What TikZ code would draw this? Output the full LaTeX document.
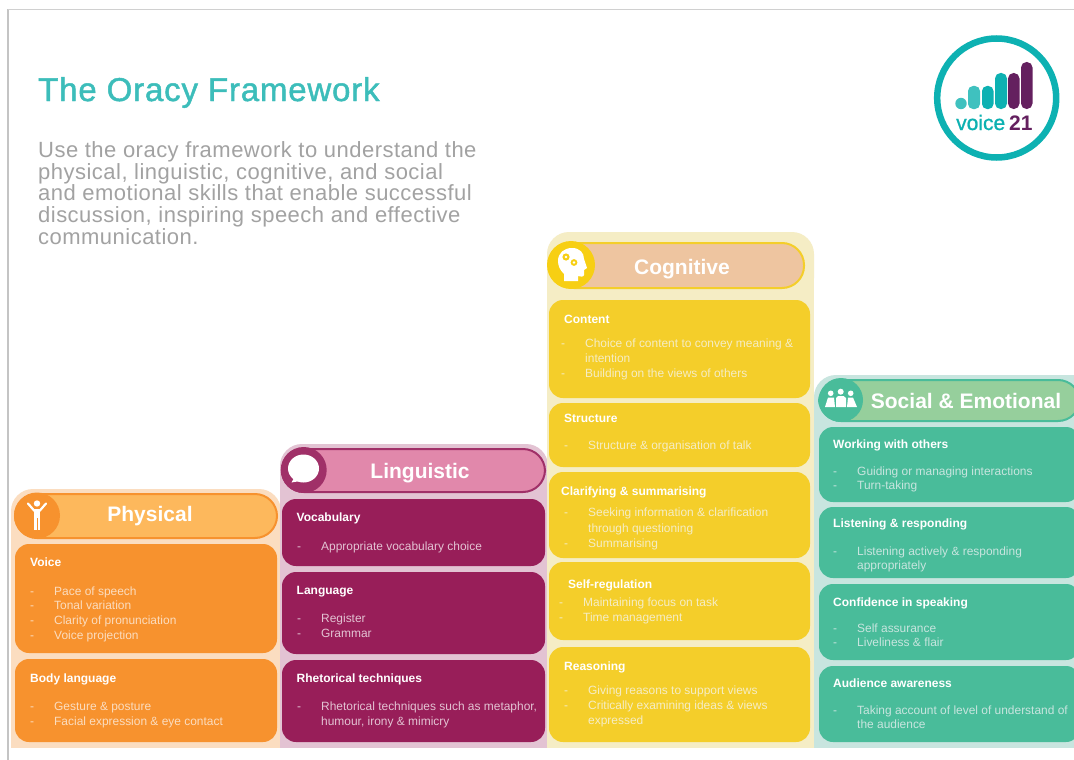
\documentclass[tikz,border=0pt]{standalone}
\usepackage{fontspec}
\setmainfont{Liberation Sans}
\newfontfamily\spcfont[LetterSpace=2.2]{Liberation Sans}
\newfontfamily\titlefont[LetterSpace=2.5,FakeBold=1.4]{Liberation Sans}
\newfontfamily\logofont[FakeBold=1]{Liberation Sans}
\definecolor{frameGray}{HTML}{C4C4C4}
\definecolor{titleTeal}{HTML}{3CBDBA}
\definecolor{introGray}{HTML}{A2A2A2}
\definecolor{logoTeal}{HTML}{0DB1B2}
\definecolor{logoLight}{HTML}{3FC1BF}
\definecolor{logoPurple}{HTML}{64205F}
\definecolor{phyPanel}{HTML}{FBDDC0}
\definecolor{phyPill}{HTML}{FDB85C}
\definecolor{phyCard}{HTML}{F7922E}
\definecolor{linPanel}{HTML}{E3C3D3}
\definecolor{linPill}{HTML}{E188AB}
\definecolor{linEdge}{HTML}{A03068}
\definecolor{linCard}{HTML}{981E59}
\definecolor{cogPanel}{HTML}{F5EDC5}
\definecolor{cogPill}{HTML}{EEC5A0}
\definecolor{cogCard}{HTML}{F4CE2A}
\definecolor{cogDisc}{HTML}{F7CF13}
\definecolor{socPanel}{HTML}{C8E5DF}
\definecolor{socPill}{HTML}{96CF9C}
\definecolor{socCard}{HTML}{49BC9A}
\newcommand{\dl}{\makebox[24pt][l]{-}}
\tikzset{
  x=1pt,y=-1pt,
  card/.style={rounded corners=14pt,fill=#1},
  pill/.style={rounded corners=22pt,line width=2pt},
  paneltop/.style={rounded corners=22pt,fill=#1},
  cardhead/.style={anchor=base west,inner sep=0pt,text=white,font=\fontsize{12}{14}\selectfont\bfseries},
  line/.style={anchor=base west,inner sep=0pt,text=#1,font=\fontsize{11.95}{14}\selectfont},
  pilltitle/.style={anchor=base,inner sep=0pt,text=white,font=\fontsize{21}{24}\selectfont\bfseries},
  intro/.style={anchor=base west,inner sep=0pt,text=introGray,font=\fontsize{22}{21.7}\selectfont\spcfont},
}
\begin{document}
\begin{tikzpicture}
\useasboundingbox (0,0) rectangle (1074,760);
\clip (0,0) rectangle (1074,760);
\fill[white] (0,0) rectangle (1074,760);
% page frame
\draw[frameGray,line width=1.5pt] (8,760) -- (8,9.5);
\draw[frameGray!80,line width=1pt] (8,9.5) -- (1074,9.5);
% title
\node[anchor=base west,inner sep=0pt,text=titleTeal,font=\fontsize{33}{36}\selectfont\titlefont] (title) at (38,101) {The Oracy Framework};
\node[intro] (introA) at (38,157) {Use the oracy framework to understand the};
\node[intro] (introB) at (38,179) {physical, linguistic, cognitive, and social};
\node[intro] (introC) at (38,200) {and emotional skills that enable successful};
\node[intro] (introD) at (38,222) {discussion, inspiring speech and effective};
\node[intro] (introE) at (38,244) {communication.};
% logo
\draw[logoTeal,line width=6.5pt] (996.7,98) circle (59.5);
\fill[logoLight] (961,103.5) circle (5.7);
\fill[logoLight,rounded corners=5pt] (968,109) rectangle (980,86);
\fill[logoTeal,rounded corners=5pt] (982,109) rectangle (993.5,86);
\fill[logoTeal,rounded corners=5.5pt] (995,109) rectangle (1007,73);
\fill[logoPurple,rounded corners=5.5pt] (1008,109) rectangle (1019.5,73);
\fill[logoPurple,rounded corners=5.5pt] (1021,109) rectangle (1032.5,62);
\node[anchor=base west,inner sep=0pt,text=logoTeal,font=\fontsize{21}{22}\selectfont\logofont] (logoA) at (956,130) {voice};
\node[anchor=base west,inner sep=0pt,text=logoPurple,font=\fontsize{21}{22}\selectfont\bfseries] (logoB) at (1009,130) {21};
% ---------- Physical
\fill[paneltop=phyPanel] (11,489) rectangle (281,560);
\fill[phyPanel] (11,520) rectangle (281,748);
\draw[pill,draw=phyCard,fill=phyPill] (15,494) rectangle (277,538);
\fill[phyCard] (37,515.5) circle (23);
\fill[white] (37,503.5) circle (3.2);
\fill[white] (33.6,509) rectangle (40,530);
\draw[white,line width=2.2pt,line cap=round] (34.5,511) -- (28,503.5) (39.5,511) -- (46,503.5);
\draw[phyCard,line width=.6pt] (36.8,518) -- (36.8,530);
\node[pilltitle] (phyT) at (150,521) {Physical};
\fill[card=phyCard] (15,544) rectangle (277,653);
\fill[card=phyCard] (15,659) rectangle (277,742);
\node[cardhead] (voice) at (30,566) {Voice};
\node[line=phyPanel] (voice1) at (30,595) {\dl Pace of speech};
\node[line=phyPanel] (voice2) at (30,609) {\dl Tonal variation};
\node[line=phyPanel] (voice3) at (30,624) {\dl Clarity of pronunciation};
\node[line=phyPanel] (voice4) at (30,639) {\dl Voice projection};
\node[cardhead] (body) at (30,682) {Body language};
\node[line=phyPanel] (body1) at (30,710) {\dl Gesture \& posture};
\node[line=phyPanel] (body2) at (30,725) {\dl Facial expression \& eye contact};
% ---------- Linguistic
\fill[paneltop=linPanel] (280,444) rectangle (548,520);
\fill[linPanel] (280,475) rectangle (548,748);
\draw[pill,draw=linEdge,fill=linPill] (282,449) rectangle (545,492);
\fill[linEdge] (303.7,470) circle (23);
\fill[white] (303.5,468.5) ellipse (15.5 and 14);
\fill[white] (294,478) -- (291.5,482.5) -- (300,481) -- cycle;
\node[pilltitle] (linT) at (420,478.5) {Linguistic};
\fill[card=linCard] (282,499) rectangle (545,566);
\fill[card=linCard] (282,572) rectangle (545,654);
\fill[card=linCard] (282,660) rectangle (545,742);
\node[cardhead] (vocab) at (296.5,521) {Vocabulary};
\node[line=linPanel] (vocab1) at (297,550) {\dl Appropriate vocabulary choice};
\node[cardhead] (lang) at (296.5,594) {Language};
\node[line=linPanel] (lang1) at (297,622) {\dl Register};
\node[line=linPanel] (lang2) at (297,637) {\dl Grammar};
\node[cardhead] (rhet) at (296.5,682) {Rhetorical techniques};
\node[line=linPanel] (rhet1) at (297,710) {\dl Rhetorical techniques such as metaphor,};
\node[line=linPanel] (rhet2) at (321,725) {humour, irony \& mimicry};
% ---------- Cognitive
\fill[paneltop=cogPanel] (547,232) rectangle (814,300);
\fill[cogPanel] (547,262) rectangle (814,748);
\draw[pill,draw=cogCard,fill=cogPill] (552,243) rectangle (804,288);
\fill[cogDisc] (571,265) circle (24);
\fill[white] (564,281) -- (564,274) .. controls (560,270) and (558,266) .. (558,261)
  .. controls (558,253) and (564,248) .. (572,248)
  .. controls (580,248) and (584,253) .. (584,259)
  -- (587,268) -- (584,270) -- (584,275) .. controls (584,277) and (580,277) .. (578,276) -- (578,281) -- cycle;
\fill[cogDisc] (566,257) circle (3.6);
\fill[cogDisc] (574,262.5) circle (3.4);
\fill[white] (566,257) circle (1.4);
\fill[white] (574,262.5) circle (1.3);
\node[pilltitle] (cogT) at (682,274) {Cognitive};
\fill[card=cogCard] (549,300) rectangle (810,398);
\fill[card=cogCard] (549,403) rectangle (810,467);
\fill[card=cogCard] (549,472) rectangle (810,558);
\fill[card=cogCard] (549,562) rectangle (810,640);
\fill[card=cogCard] (549,647) rectangle (810,742);
\node[cardhead] (content) at (564,323) {Content};
\node[line=cogPanel] (content1) at (561,347) {\dl Choice of content to convey meaning \&};
\node[line=cogPanel] (content2) at (585,362) {intention};
\node[line=cogPanel] (content3) at (561,377) {\dl Building on the views of others};
\node[cardhead] (struct) at (564,422) {Structure};
\node[line=cogPanel] (struct1) at (564,449) {\dl Structure \& organisation of talk};
\node[cardhead] (clar) at (561,495) {Clarifying \& summarising};
\node[line=cogPanel] (clar1) at (564,516) {\dl Seeking information \& clarification};
\node[line=cogPanel] (clar2) at (588,532) {through questioning};
\node[line=cogPanel] (clar3) at (564,547) {\dl Summarising};
\node[cardhead] (self) at (568,588) {Self-regulation};
\node[line=cogPanel] (self1) at (559,606) {\dl Maintaining focus on task};
\node[line=cogPanel] (self2) at (559,621) {\dl Time management};
\node[cardhead] (reason) at (564,670) {Reasoning};
\node[line=cogPanel] (reason1) at (564,694) {\dl Giving reasons to support views};
\node[line=cogPanel] (reason2) at (564,709) {\dl Critically examining ideas \& views};
\node[line=cogPanel] (reason3) at (588,724) {expressed};
% ---------- Social & Emotional
\fill[paneltop=socPanel] (814,375) rectangle (1100,440);
\fill[socPanel] (814,405) rectangle (1100,748);
\draw[pill,draw=socCard,fill=socPill] (819,380) rectangle (1080,421);
\fill[socCard] (841,400) circle (22);
\fill[white] (830.7,393.3) circle (2.8) (840.7,391.7) circle (3) (850.7,393.3) circle (2.8);
\fill[white] (836,407) -- (836,398) -- (838,396) -- (843.5,396) -- (846,398) -- (846,407) -- cycle;
\fill[white] (825,407) -- (828,397.5) -- (834,397.5) -- (835,407) -- cycle;
\fill[white] (847,407) -- (848,397.5) -- (853,397.5) -- (857,407) -- cycle;
\node[pilltitle] (socT) at (966,408) {Social \& Emotional};
\fill[card=socCard] (819,427) rectangle (1080,502);
\fill[card=socCard] (819,507) rectangle (1080,578);
\fill[card=socCard] (819,584) rectangle (1080,660);
\fill[card=socCard] (819,666) rectangle (1080,742);
\node[cardhead] (work) at (833,448) {Working with others};
\node[line=socPanel] (work1) at (833,475) {\dl Guiding or managing interactions};
\node[line=socPanel] (work2) at (833,489) {\dl Turn-taking};
\node[cardhead] (listen) at (833,527) {Listening \& responding};
\node[line=socPanel] (listen1) at (833,555) {\dl Listening actively \& responding};
\node[line=socPanel] (listen2) at (857,569) {appropriately};
\node[cardhead] (conf) at (833,606) {Confidence in speaking};
\node[line=socPanel] (conf1) at (833,632) {\dl Self assurance};
\node[line=socPanel] (conf2) at (833,646) {\dl Liveliness \& flair};
\node[cardhead] (aud) at (833,687) {Audience awareness};
\node[line=socPanel] (aud1) at (833,714) {\dl Taking account of level of understand of};
\node[line=socPanel] (aud2) at (857,728) {the audience};
\end{tikzpicture}
\end{document}
